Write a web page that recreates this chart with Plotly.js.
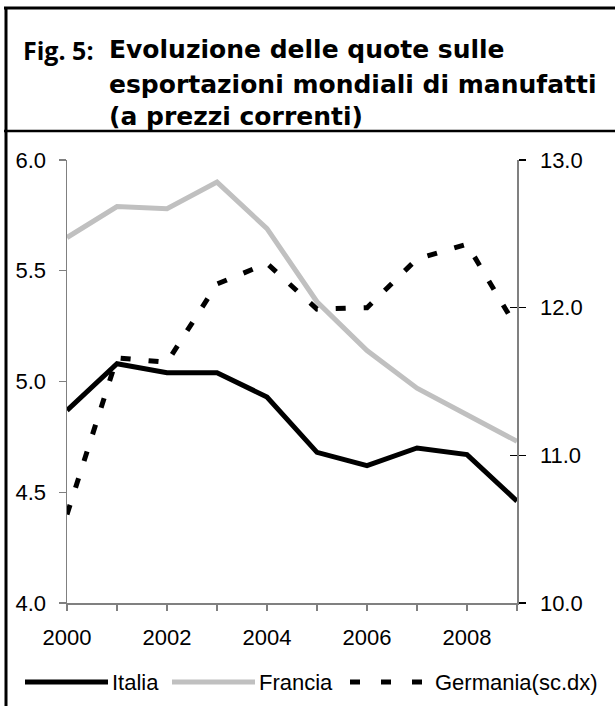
<!DOCTYPE html>
<html>
<head>
<meta charset="utf-8">
<script src="https://cdn.plot.ly/plotly-3.0.1.min.js"></script>
<style>html,body{margin:0;padding:0;background:#fff;}#chart{width:615px;height:706px;}</style>
</head>
<body>
<div id="chart"></div>
<script>
// ---- data ----
const years = [2000, 2001, 2002, 2003, 2004, 2005, 2006, 2007, 2008, 2009];
const italia = [4.87, 5.08, 5.04, 5.04, 4.93, 4.68, 4.62, 4.70, 4.67, 4.46];
const francia = [5.65, 5.79, 5.78, 5.90, 5.69, 5.36, 5.14, 4.97, 4.85, 4.73];
const germania = [10.60, 11.66, 11.63, 12.16, 12.30, 11.99, 12.00, 12.33, 12.43, 11.86];
const xTickLabels = ['2000', '', '2002', '', '2004', '', '2006', '', '2008', ''];
const seriesNames = ['Italia', 'Francia', 'Germania(sc.dx)'];
const titleLabel = 'Fig. 5:';
const titleLines = ['Evoluzione delle quote sulle', 'esportazioni mondiali di manufatti', '(a prezzi correnti)'];

// ---- layout helpers (pixel -> paper) ----
const W = 615, H = 706;
const M = {l: 67, r: 98, t: 160, b: 103};
const PW = W - M.l - M.r, PH = H - M.t - M.b;
const px = x => (x - M.l) / PW;
const py = y => (H - M.b - y) / PH;

const axisFont = {family: 'Liberation Sans, Arial, sans-serif', size: 22, color: '#000'};
const legendFont = {family: 'Liberation Sans, Arial, sans-serif', size: 22, color: '#000'};
const titleFont = {family: 'DejaVu Sans, Verdana, sans-serif', size: 25, color: '#000'};
const labelFont = {family: 'Open Sans, DejaVu Sans, sans-serif', size: 25, color: '#000'};

const traces = [
  {x: years, y: italia, name: seriesNames[0], type: 'scatter', mode: 'lines',
   line: {color: '#000000', width: 5}, yaxis: 'y', showlegend: false},
  {x: years, y: francia, name: seriesNames[1], type: 'scatter', mode: 'lines',
   line: {color: '#c0c0c0', width: 5}, yaxis: 'y', showlegend: false},
  {x: years, y: germania, name: seriesNames[2], type: 'scatter', mode: 'lines',
   line: {color: '#000000', width: 5, dash: '10px,18px'}, yaxis: 'y2', showlegend: false}
];

const annotations = [];
annotations.push({xref: 'paper', yref: 'paper', x: px(21), y: py(50), xanchor: 'left', yanchor: 'middle',
  text: '<b>' + titleLabel + '</b>', showarrow: false, font: labelFont});
const lineY = [50, 84, 117];
titleLines.forEach((t, i) => annotations.push({xref: 'paper', yref: 'paper', x: px(107), y: py(lineY[i]),
  xanchor: 'left', yanchor: 'middle', text: '<b>' + t + '</b>', showarrow: false, font: titleFont}));

const legY = 682;
const legTextX = [110, 257, 433];
seriesNames.forEach((n, i) => annotations.push({xref: 'paper', yref: 'paper', x: px(legTextX[i]), y: py(legY),
  xanchor: 'left', yanchor: 'middle', text: n, showarrow: false, font: legendFont}));

const shapes = [
  // frame
  {type: 'line', xref: 'paper', yref: 'paper', x0: px(4), x1: px(615), y0: py(8), y1: py(8), line: {color: '#000', width: 3}},
  {type: 'line', xref: 'paper', yref: 'paper', x0: px(6), x1: px(6), y0: py(7), y1: py(706), line: {color: '#000', width: 3}},
  {type: 'line', xref: 'paper', yref: 'paper', x0: px(4), x1: px(615), y0: py(131), y1: py(131), line: {color: '#000', width: 2.5}},
  // legend samples
  {type: 'line', xref: 'paper', yref: 'paper', x0: px(25), x1: px(108), y0: py(legY), y1: py(legY), line: {color: '#000000', width: 5}},
  {type: 'line', xref: 'paper', yref: 'paper', x0: px(172), x1: px(255), y0: py(legY), y1: py(legY), line: {color: '#c0c0c0', width: 5}},
  {type: 'line', xref: 'paper', yref: 'paper', x0: px(350), x1: px(425), y0: py(legY), y1: py(legY), line: {color: '#000000', width: 5, dash: '10px,21px'}}
];

const axisCommon = {showgrid: false, zeroline: false, showline: true, linecolor: '#808080', linewidth: 1.5,
  tickcolor: '#000', tickwidth: 1.2, tickfont: axisFont};

const layout = {
  width: W, height: H,
  margin: M,
  paper_bgcolor: '#fff', plot_bgcolor: '#fff',
  showlegend: false,
  xaxis: Object.assign({}, axisCommon, {range: [2000, 2009], tickmode: 'array', tickvals: years, ticktext: xTickLabels,
    ticks: 'outside', ticklen: 6, tickcolor: '#808080', ticklabelstandoff: 8}),
  yaxis: Object.assign({}, axisCommon, {range: [4, 6], dtick: 0.5, tick0: 4, tickformat: '.1f', ticks: 'outside', ticklen: 7,
    tickcolor: '#808080', ticklabelstandoff: 8}),
  yaxis2: Object.assign({}, axisCommon, {range: [10, 13], dtick: 1, tick0: 10, tickformat: '.1f', ticks: 'outside', ticklen: 7,
    overlaying: 'y', side: 'right', tickcolor: '#000', ticklabelstandoff: 10}),
  yaxis3: {range: [10, 13], dtick: 1, tick0: 10, ticks: 'inside', ticklen: 7, tickcolor: '#000', tickwidth: 1.2,
    overlaying: 'y', side: 'right', showticklabels: false, showgrid: false, zeroline: false, showline: false},
  annotations: annotations,
  shapes: shapes
};

traces.push({x: [years[0]], y: [null], yaxis: 'y3', type: 'scatter', mode: 'lines', showlegend: false, hoverinfo: 'skip'});

Plotly.newPlot('chart', traces, layout, {staticPlot: true, displayModeBar: false});
</script>
</body>
</html>
